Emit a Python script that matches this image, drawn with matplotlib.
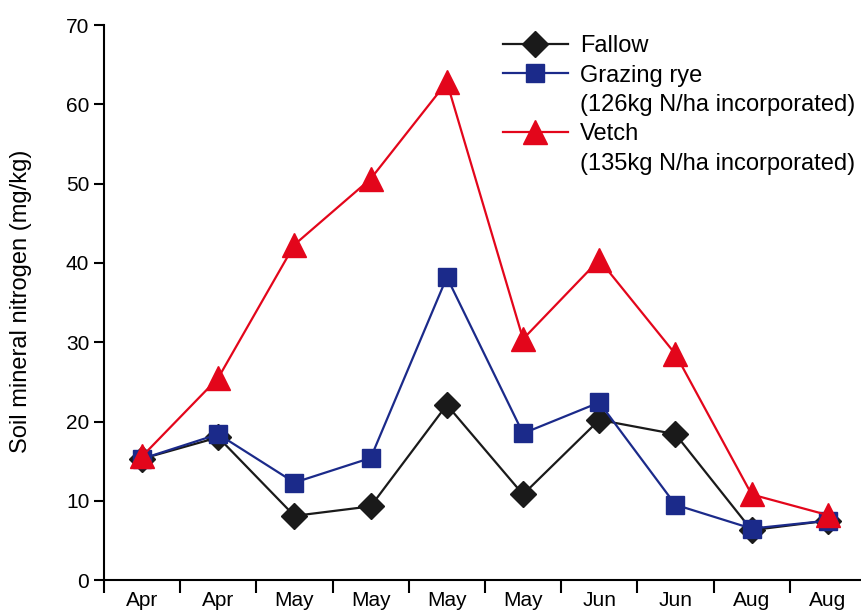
import matplotlib
matplotlib.use("Agg")
import matplotlib.pyplot as plt
from matplotlib.lines import Line2D
import numpy as np

plt.rcParams['font.family'] = ['Liberation Sans', 'DejaVu Sans']

months = ["Apr", "Apr", "May", "May", "May", "May", "Jun", "Jun", "Aug", "Aug"]
fallow = [15.3, 18.0, 8.1, 9.3, 22.1, 10.8, 20.2, 18.4, 6.3, 7.5]
grazing_rye = [15.3, 18.4, 12.3, 15.4, 38.2, 18.5, 22.4, 9.5, 6.5, 7.5]
vetch = [15.6, 25.5, 42.3, 50.6, 62.8, 30.4, 40.4, 28.5, 10.8, 8.2]

series_labels = ["Fallow", "Grazing rye", "Vetch"]
series_notes = [None, "(126kg N/ha incorporated)", "(135kg N/ha incorporated)"]

fig = plt.figure(figsize=(8.62, 6.10), dpi=100)
ax = fig.add_axes([0.1206, 0.049, 0.884, 0.910])

x = np.arange(len(months))
l1, = ax.plot(x, fallow, color="#1a1a1a", marker="D", markersize=13, lw=1.6)
l2, = ax.plot(x, grazing_rye, color="#1b2a8a", marker="s", markersize=13, lw=1.6)
l3, = ax.plot(x, vetch, color="#e3061b", marker="^", markersize=17, lw=1.6)

ax.set_xlim(-0.5, len(months) - 0.5)
ax.set_ylim(0, 70)
ax.set_yticks(range(0, 71, 10))
ax.set_xticks(x)
ax.set_xticklabels(months, fontsize=15)
ax.set_xticks(np.arange(-0.5, len(months), 1.0), minor=True)
ax.tick_params(axis="x", which="major", length=0, pad=8)
ax.tick_params(axis="x", which="minor", length=9, width=1.5, direction="out")
ax.tick_params(axis="y", length=7, width=1.5, direction="out", labelsize=15)
for s in ["top", "right"]:
    ax.spines[s].set_visible(False)
for s in ["left", "bottom"]:
    ax.spines[s].set_linewidth(1.5)
ax.set_ylabel("Soil mineral nitrogen (mg/kg)", fontsize=17)
ax.yaxis.set_label_coords(-0.094, 0.503)

handles, labels = [], []
for line, lab, note in zip([l1, l2, l3], series_labels, series_notes):
    handles.append(line)
    labels.append(lab)
    if note:
        handles.append(Line2D([], [], linestyle="none", marker="none"))
        labels.append(note)
fig.legend(handles, labels, loc="upper left", bbox_to_anchor=(0.5835, 0.942),
           frameon=False, fontsize=17, handlelength=2.75, handletextpad=0.5,
           labelspacing=0.31, borderpad=0, borderaxespad=0)

fig.savefig("out.png", dpi=100)
